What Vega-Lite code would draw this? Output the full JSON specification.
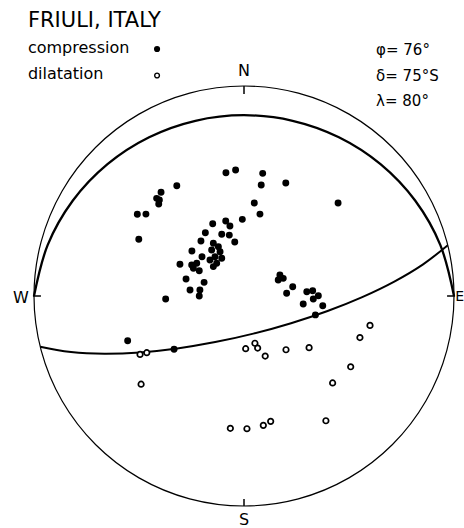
{
  "$schema": "https://vega.github.io/schema/vega-lite/v6.json",
  "width": 420,
  "height": 420,
  "autosize": {"type": "none"},
  "padding": {"left": 34, "top": 86, "right": 10, "bottom": 22},
  "background": "white",
  "config": {"view": {"stroke": null}, "font": "DejaVu Sans"},
  "datasets": {
    "circle": [
      {"i": 0, "x": 0, "y": 1}, {"i": 1, "x": 0.2588, "y": 0.9659}, {"i": 2, "x": 0.5, "y": 0.866},
      {"i": 3, "x": 0.7071, "y": 0.7071}, {"i": 4, "x": 0.866, "y": 0.5}, {"i": 5, "x": 0.9659, "y": 0.2588},
      {"i": 6, "x": 1, "y": 0}, {"i": 7, "x": 0.9659, "y": -0.2588}, {"i": 8, "x": 0.866, "y": -0.5},
      {"i": 9, "x": 0.7071, "y": -0.7071}, {"i": 10, "x": 0.5, "y": -0.866}, {"i": 11, "x": 0.2588, "y": -0.9659},
      {"i": 12, "x": 0, "y": -1}, {"i": 13, "x": -0.2588, "y": -0.9659}, {"i": 14, "x": -0.5, "y": -0.866},
      {"i": 15, "x": -0.7071, "y": -0.7071}, {"i": 16, "x": -0.866, "y": -0.5}, {"i": 17, "x": -0.9659, "y": -0.2588},
      {"i": 18, "x": -1, "y": 0}, {"i": 19, "x": -0.9659, "y": 0.2588}, {"i": 20, "x": -0.866, "y": 0.5},
      {"i": 21, "x": -0.7071, "y": 0.7071}, {"i": 22, "x": -0.5, "y": 0.866}, {"i": 23, "x": -0.2588, "y": 0.9659}
    ],
    "aux": [
      {"i": 0, "x": 1, "y": 0}, {"i": 1, "x": 0.9351, "y": 0.242}, {"i": 2, "x": 0.8149, "y": 0.4545},
      {"i": 3, "x": 0.6501, "y": 0.6279}, {"i": 4, "x": 0.4519, "y": 0.7561}, {"i": 5, "x": 0.2315, "y": 0.8345},
      {"i": 6, "x": 0, "y": 0.8609}, {"i": 7, "x": -0.2315, "y": 0.8345}, {"i": 8, "x": -0.4519, "y": 0.7561},
      {"i": 9, "x": -0.6501, "y": 0.6279}, {"i": 10, "x": -0.8149, "y": 0.4545}, {"i": 11, "x": -0.9351, "y": 0.242},
      {"i": 12, "x": -1, "y": 0}
    ],
    "plane": [
      {"i": 0, "x": 0.9703, "y": 0.2419}, {"i": 1, "x": 0.8528, "y": 0.1509}, {"i": 2, "x": 0.7157, "y": 0.0689},
      {"i": 3, "x": 0.563, "y": -0.005}, {"i": 4, "x": 0.398, "y": -0.0712}, {"i": 5, "x": 0.2241, "y": -0.1294},
      {"i": 6, "x": 0.0446, "y": -0.1791}, {"i": 7, "x": -0.1371, "y": -0.2195}, {"i": 8, "x": -0.318, "y": -0.2498},
      {"i": 9, "x": -0.4947, "y": -0.2688}, {"i": 10, "x": -0.6643, "y": -0.2752}, {"i": 11, "x": -0.8238, "y": -0.2672},
      {"i": 12, "x": -0.9703, "y": -0.2419}
    ],
    "ticks": [
      {"x": 0, "y": 1, "x2": 0, "y2": 0.962},
      {"x": 0, "y": -1, "x2": 0, "y2": -0.967},
      {"x": -1.005, "y": 0, "x2": -0.967, "y2": 0},
      {"x": 1.005, "y": 0, "x2": 0.967, "y2": 0}
    ],
    "compression": [
      {"x": -0.086, "y": 0.587}, {"x": -0.04, "y": 0.6}, {"x": 0.089, "y": 0.584}, {"x": 0.082, "y": 0.529},
      {"x": 0.199, "y": 0.538}, {"x": -0.32, "y": 0.525}, {"x": -0.395, "y": 0.494}, {"x": -0.416, "y": 0.465},
      {"x": -0.403, "y": 0.457}, {"x": -0.406, "y": 0.438}, {"x": -0.508, "y": 0.389}, {"x": -0.467, "y": 0.39},
      {"x": -0.501, "y": 0.27}, {"x": 0.049, "y": 0.443}, {"x": 0.076, "y": 0.39}, {"x": -0.008, "y": 0.365},
      {"x": -0.149, "y": 0.344}, {"x": -0.087, "y": 0.357}, {"x": -0.067, "y": 0.333}, {"x": -0.184, "y": 0.301},
      {"x": -0.106, "y": 0.294}, {"x": -0.07, "y": 0.29}, {"x": -0.205, "y": 0.262}, {"x": -0.044, "y": 0.257},
      {"x": -0.146, "y": 0.251}, {"x": -0.122, "y": 0.235}, {"x": -0.154, "y": 0.219}, {"x": -0.114, "y": 0.211},
      {"x": -0.138, "y": 0.187}, {"x": -0.162, "y": 0.171}, {"x": -0.13, "y": 0.156}, {"x": -0.106, "y": 0.18},
      {"x": -0.146, "y": 0.14}, {"x": -0.248, "y": 0.214}, {"x": -0.2, "y": 0.187}, {"x": -0.305, "y": 0.151},
      {"x": -0.249, "y": 0.148}, {"x": -0.225, "y": 0.156}, {"x": -0.241, "y": 0.132}, {"x": -0.213, "y": 0.12},
      {"x": -0.276, "y": 0.081}, {"x": -0.19, "y": 0.065}, {"x": -0.257, "y": 0.029}, {"x": -0.21, "y": 0.029},
      {"x": -0.213, "y": 0.0}, {"x": -0.373, "y": -0.014}, {"x": 0.171, "y": 0.1}, {"x": 0.187, "y": 0.084},
      {"x": 0.163, "y": 0.076}, {"x": 0.232, "y": 0.044}, {"x": 0.203, "y": 0.013}, {"x": 0.299, "y": 0.02},
      {"x": 0.327, "y": 0.025}, {"x": 0.354, "y": 0.001}, {"x": 0.33, "y": -0.014}, {"x": 0.282, "y": -0.038},
      {"x": 0.375, "y": -0.046}, {"x": 0.34, "y": -0.09}, {"x": -0.554, "y": -0.213}, {"x": -0.333, "y": -0.254},
      {"x": 0.448, "y": 0.443}
    ],
    "dilatation": [
      {"x": 0.6, "y": -0.14}, {"x": 0.552, "y": -0.198}, {"x": 0.508, "y": -0.337}, {"x": 0.422, "y": -0.414},
      {"x": 0.31, "y": -0.246}, {"x": 0.2, "y": -0.256}, {"x": 0.008, "y": -0.251}, {"x": 0.052, "y": -0.225},
      {"x": 0.065, "y": -0.248}, {"x": 0.101, "y": -0.286}, {"x": -0.495, "y": -0.278}, {"x": -0.463, "y": -0.27},
      {"x": -0.49, "y": -0.42}, {"x": -0.065, "y": -0.63}, {"x": 0.014, "y": -0.632}, {"x": 0.092, "y": -0.616},
      {"x": 0.127, "y": -0.597}, {"x": 0.39, "y": -0.594}
    ],
    "legendFilled": [{"x": -0.414, "y": 1.176}],
    "legendOpen": [{"x": -0.414, "y": 1.05}],
    "title": [{"x": -1.029, "y": 1.281, "label": "FRIULI, ITALY"}],
    "legendText": [
      {"x": -1.029, "y": 1.157, "label": "compression"},
      {"x": -1.029, "y": 1.033, "label": "dilatation"}
    ],
    "params": [
      {"x": 0.629, "y": 1.148, "label": "φ= 76°"},
      {"x": 0.629, "y": 1.024, "label": "δ= 75°S"},
      {"x": 0.629, "y": 0.905, "label": "λ= 80°"}
    ],
    "compass": [
      {"x": 0, "y": 1.071, "label": "N"},
      {"x": 0, "y": -1.067, "label": "S"},
      {"x": -1.062, "y": -0.01, "label": "W"}
    ],
    "east": [
      {"x": 1.006, "y": -0.005, "label": "E"}
    ]
  },
  "encoding": {
    "x": {"field": "x", "type": "quantitative", "scale": {"domain": [-1, 1], "nice": false, "zero": false}, "axis": null},
    "y": {"field": "y", "type": "quantitative", "scale": {"domain": [-1, 1], "nice": false, "zero": false}, "axis": null}
  },
  "layer": [
    {
      "data": {"name": "circle"},
      "mark": {"type": "line", "interpolate": "cardinal-closed", "color": "black", "strokeWidth": 1.2},
      "encoding": {"order": {"field": "i", "type": "quantitative"}}
    },
    {
      "data": {"name": "aux"},
      "mark": {"type": "line", "interpolate": "cardinal", "color": "black", "strokeWidth": 2.3},
      "encoding": {"order": {"field": "i", "type": "quantitative"}}
    },
    {
      "data": {"name": "plane"},
      "mark": {"type": "line", "interpolate": "cardinal", "color": "black", "strokeWidth": 2},
      "encoding": {"order": {"field": "i", "type": "quantitative"}}
    },
    {
      "data": {"name": "ticks"},
      "mark": {"type": "rule", "color": "black", "strokeWidth": 1.5},
      "encoding": {"x2": {"field": "x2"}, "y2": {"field": "y2"}}
    },
    {
      "data": {"name": "compression"},
      "mark": {"type": "point", "shape": "circle", "filled": true, "color": "black", "size": 48, "opacity": 1}
    },
    {
      "data": {"name": "dilatation"},
      "mark": {"type": "point", "shape": "circle", "filled": true, "fill": "white", "stroke": "black", "strokeWidth": 1.7, "size": 30, "opacity": 1}
    },
    {
      "data": {"name": "legendFilled"},
      "mark": {"type": "point", "shape": "circle", "filled": true, "color": "black", "size": 38, "opacity": 1}
    },
    {
      "data": {"name": "legendOpen"},
      "mark": {"type": "point", "shape": "circle", "filled": true, "fill": "white", "stroke": "black", "strokeWidth": 1.4, "size": 22, "opacity": 1}
    },
    {
      "data": {"name": "title"},
      "mark": {"type": "text", "align": "left", "baseline": "alphabetic", "fontSize": 21, "color": "black"},
      "encoding": {"text": {"field": "label"}}
    },
    {
      "data": {"name": "legendText"},
      "mark": {"type": "text", "align": "left", "baseline": "alphabetic", "fontSize": 16, "color": "black"},
      "encoding": {"text": {"field": "label"}}
    },
    {
      "data": {"name": "params"},
      "mark": {"type": "text", "align": "left", "baseline": "alphabetic", "fontSize": 15, "color": "black"},
      "encoding": {"text": {"field": "label"}}
    },
    {
      "data": {"name": "compass"},
      "mark": {"type": "text", "align": "center", "baseline": "middle", "fontSize": 16, "color": "black"},
      "encoding": {"text": {"field": "label"}}
    },
    {
      "data": {"name": "east"},
      "mark": {"type": "text", "align": "left", "baseline": "middle", "fontSize": 14, "color": "black"},
      "encoding": {"text": {"field": "label"}}
    }
  ]
}
